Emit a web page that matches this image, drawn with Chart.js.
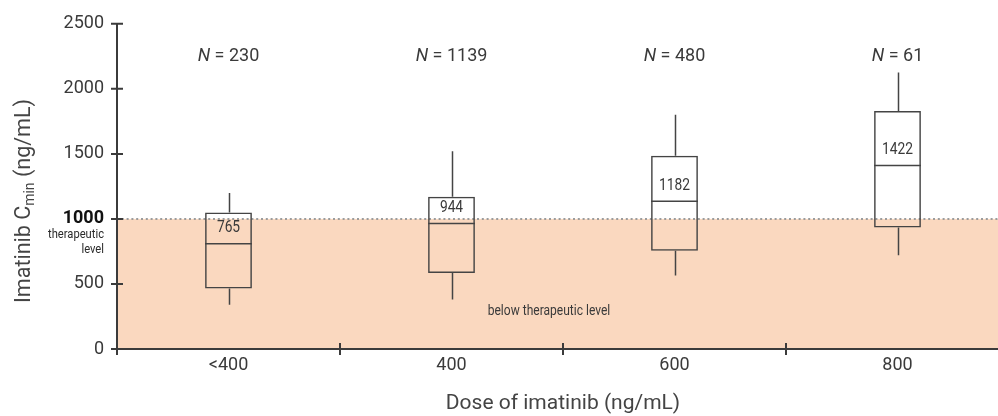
<!DOCTYPE html>
<html>
<head>
<meta charset="utf-8">
<title>Imatinib Cmin by dose</title>
<script src="https://cdn.jsdelivr.net/npm/chart.js@4.4.0/dist/chart.umd.min.js"></script>
<style>
  html, body { margin: 0; padding: 0; background: #fff; overflow: hidden; }
  #wrap { width: 1009px; height: 416px; }
</style>
</head>
<body>
<div id="wrap"><canvas id="cminChart" width="1009" height="416"></canvas></div>
<script>
// Dose groups and Cmin distribution (ng/mL)
const doseLabels = ['<400', '400', '600', '800'];
const groupSizes = [230, 1139, 480, 61];
const whiskerLow = [340, 380, 565, 720];
const quartile1 = [465, 585, 755, 935];
const medians = [810, 965, 1135, 1410];
const quartile3 = [1050, 1170, 1485, 1830];
const whiskerHigh = [1200, 1520, 1800, 2125];
const meanValues = [765, 944, 1182, 1422];
const yTicks = [0, 500, 1000, 1500, 2000, 2500];
const therapeuticLevel = 1000;

const AXIS_COLOR = '#3b3b3b';
const TEXT_COLOR = '#3a3a3a';
const FONT = 'Roboto, "Noto Sans", sans-serif';

// narrow text, the figure uses a condensed face
function condensedText(ctx, text, x, y, size, align) {
    ctx.save();
    ctx.font = size + 'px ' + FONT;
    ctx.textAlign = align || 'center';
    ctx.textBaseline = 'middle';
    ctx.translate(x, y);
    ctx.scale(0.86, 1);
    ctx.fillText(text, 0, 0);
    ctx.restore();
}

const boxPlotPlugin = {
    id: 'boxPlot',
    beforeDatasetsDraw(chart) {
        const { ctx, chartArea, scales: { x, y } } = chart;
        const yT = y.getPixelForValue(therapeuticLevel);
        const y0 = y.getPixelForValue(0);
        ctx.save();
        // below therapeutic level band
        ctx.fillStyle = '#fad8bf';
        ctx.fillRect(chartArea.left, yT, chartArea.right - chartArea.left, y0 - yT);
        // dotted therapeutic line
        ctx.strokeStyle = '#9c9c9c';
        ctx.lineWidth = 2;
        ctx.setLineDash([2, 2.8]);
        ctx.beginPath();
        ctx.moveTo(chartArea.left, yT);
        ctx.lineTo(chartArea.right, yT);
        ctx.stroke();
        ctx.setLineDash([]);
        ctx.fillStyle = TEXT_COLOR;
        const midX = (x.getPixelForValue(1) + x.getPixelForValue(2)) / 2 - 14;
        condensedText(ctx, 'below therapeutic level', midX, y.getPixelForValue(290), 14);
        ctx.restore();
    },
    afterDatasetsDraw(chart) {
        const { ctx, chartArea, scales: { y } } = chart;
        const bars = chart.getDatasetMeta(0).data;
        ctx.save();
        ctx.strokeStyle = '#444';
        ctx.lineWidth = 1.5;
        bars.forEach((bar, i) => {
            const cx = Math.round(bar.x) + 0.5;
            const half = bar.width / 2;
            ctx.beginPath();
            // whiskers
            ctx.moveTo(cx, y.getPixelForValue(quartile3[i]));
            ctx.lineTo(cx, y.getPixelForValue(whiskerHigh[i]));
            ctx.moveTo(cx, y.getPixelForValue(quartile1[i]));
            ctx.lineTo(cx, y.getPixelForValue(whiskerLow[i]));
            // median
            const my = y.getPixelForValue(medians[i]);
            ctx.moveTo(bar.x - half, my);
            ctx.lineTo(bar.x + half, my);
            ctx.stroke();

            ctx.fillStyle = TEXT_COLOR;
            condensedText(ctx, String(meanValues[i]), bar.x, my - 15.5, 16);

            // N = ... above each group
            ctx.font = 'italic 18px ' + FONT;
            const nW = ctx.measureText('N').width;
            ctx.font = '18px ' + FONT;
            const rest = ' = ' + groupSizes[i];
            const rW = ctx.measureText(rest).width;
            const sx = bar.x - (nW + rW) / 2;
            const ny = chartArea.top + 33;
            ctx.textAlign = 'left';
            ctx.textBaseline = 'middle';
            ctx.font = 'italic 18px ' + FONT;
            ctx.fillText('N', sx, ny);
            ctx.font = '18px ' + FONT;
            ctx.fillText(rest, sx + nW, ny);
        });
        ctx.restore();
    },
    afterDraw(chart) {
        const { ctx, chartArea, scales: { x, y } } = chart;
        ctx.save();
        ctx.strokeStyle = AXIS_COLOR;
        ctx.lineWidth = 2;
        ctx.beginPath();
        // tick marks crossing the y axis
        yTicks.forEach(v => {
            const py = y.getPixelForValue(v);
            ctx.moveTo(chartArea.left - 6, py);
            ctx.lineTo(chartArea.left + 6, py);
        });
        // tick marks between dose groups on the x axis
        const xb = [chartArea.left];
        for (let i = 0; i < doseLabels.length - 1; i++) {
            xb.push((x.getPixelForValue(i) + x.getPixelForValue(i + 1)) / 2);
        }
        xb.forEach(px => {
            const rx = Math.round(px);
            ctx.moveTo(rx, chartArea.bottom - 6);
            ctx.lineTo(rx, chartArea.bottom + 6);
        });
        ctx.stroke();

        // "therapeutic level" under the bold 1000 tick
        ctx.fillStyle = '#2a2a2a';
        const yT = y.getPixelForValue(therapeuticLevel);
        condensedText(ctx, 'therapeutic', chartArea.left - 13, yT + 16, 13, 'right');
        condensedText(ctx, 'level', chartArea.left - 13, yT + 31, 13, 'right');

        // y axis title with subscript
        ctx.fillStyle = '#444';
        ctx.translate(25, 201);
        ctx.rotate(-Math.PI / 2);
        ctx.textBaseline = 'middle';
        ctx.textAlign = 'left';
        const mainFont = '21.5px ' + FONT;
        const subFont = '14px ' + FONT;
        ctx.font = mainFont;
        const w1 = ctx.measureText('Imatinib C').width;
        const w3 = ctx.measureText(' (ng/mL)').width;
        ctx.font = subFont;
        const w2 = ctx.measureText('min').width;
        const start = -(w1 + w2 + w3) / 2;
        ctx.font = mainFont;
        ctx.fillText('Imatinib C', start, 0);
        ctx.font = subFont;
        ctx.fillText('min', start + w1, 5);
        ctx.font = mainFont;
        ctx.fillText(' (ng/mL)', start + w1 + w2, 0);
        ctx.restore();
    }
};

new Chart(document.getElementById('cminChart'), {
    type: 'bar',
    data: {
        labels: doseLabels,
        datasets: [{
            data: quartile1.map((q, i) => [q, quartile3[i]]),
            backgroundColor: 'rgba(0, 0, 0, 0)',
            borderColor: '#444',
            borderWidth: 1.5,
            borderSkipped: false,
            barPercentage: 0.21,
            categoryPercentage: 1
        }]
    },
    options: {
        responsive: false,
        animation: false,
        layout: { padding: { top: 19, left: 0, right: 0, bottom: 0 } },
        plugins: {
            legend: { display: false },
            tooltip: { enabled: false }
        },
        scales: {
            x: {
                offset: true,
                grid: { display: false, drawTicks: false },
                border: { display: true, color: AXIS_COLOR, width: 2, z: 1 },
                ticks: { color: TEXT_COLOR, padding: 6, font: { family: FONT, size: 18 } },
                title: {
                    display: true,
                    text: 'Dose of imatinib (ng/mL)',
                    color: '#444',
                    font: { family: FONT, size: 21 },
                    padding: { top: 4, bottom: 0 }
                },
                afterFit(scale) { scale.height = 67; }
            },
            y: {
                min: 0,
                max: 2500,
                afterBuildTicks(scale) { scale.ticks = yTicks.map(v => ({ value: v })); },
                grid: { display: false, drawTicks: false },
                border: { display: true, color: AXIS_COLOR, width: 2, z: 1 },
                ticks: {
                    padding: 13,
                    callback: v => String(v),
                    color: c => (c.tick && c.tick.value === therapeuticLevel) ? '#111' : TEXT_COLOR,
                    font: c => ({
                        family: FONT,
                        size: 18,
                        weight: (c.tick && c.tick.value === therapeuticLevel) ? 'bold' : 'normal'
                    })
                },
                afterFit(scale) { scale.width = 117; }
            }
        }
    },
    plugins: [boxPlotPlugin]
});
</script>
</body>
</html>
